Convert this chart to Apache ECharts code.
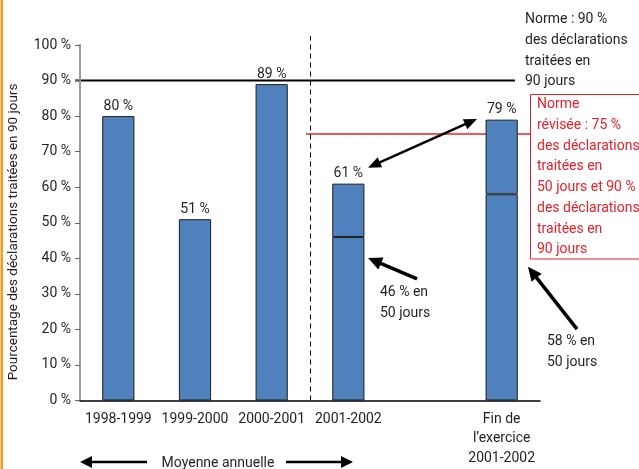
<!DOCTYPE html>
<html>
<head>
<meta charset="utf-8">
<script src="https://cdn.jsdelivr.net/npm/echarts@6/dist/echarts.min.js"></script>
<style>
  html, body { margin: 0; padding: 0; background: #fff; }
  #chart { width: 639px; height: 469px; }
</style>
</head>
<body>
<div id="chart"></div>
<script>
// Processing performance for returns, by period
const categories = ['1998-1999', '1999-2000', '2000-2001', '2001-2002', '', 'Fin de\nl’exercice\n2001-2002'];
const totalIn90Days = [80, 51, 89, 61, null, 79];
const within50Days = [null, null, null, 46, null, 58];
const norm90 = 90;
const revisedNorm = 75;
const yTitle = 'Pourcentage des déclarations traitées en 90 jours';

const FONT = 'Roboto';
const FS = 14;
const INK = '#231f20';
const RED = '#e8202a';
const CSS_FONT = FS + 'px ' + FONT;

const upperPart = totalIn90Days.map((t, i) => t == null ? null : t - (within50Days[i] || 0));
const barStyle = { color: '#4f81bd', borderColor: '#1f1f1f', borderWidth: 1 };

const chart = echarts.init(document.getElementById('chart'));
chart.setOption({
  animation: false,
  grid: { left: 80, right: 99, top: 45, bottom: 68.5 },
  xAxis: [
    {
      type: 'category',
      data: categories,
      axisLine: { lineStyle: { color: '#000', width: 1.5 } },
      axisTick: { length: 5, lineStyle: { color: '#333' } },
      axisLabel: {
        color: INK, fontFamily: FONT, fontSize: FS, margin: 9,
        lineHeight: 19.5, verticalAlign: 'top', interval: 0
      }
    },
    // position scale for annotations: one unit per category band
    { type: 'value', min: 0, max: 6, show: false }
  ],
  yAxis: {
    type: 'value',
    min: 0, max: 100, interval: 10,
    axisLine: { show: true, lineStyle: { color: '#999', width: 2 } },
    axisTick: { show: true, length: 5, lineStyle: { color: '#666' } },
    splitLine: { show: false },
    axisLabel: { color: INK, fontFamily: FONT, fontSize: FS, margin: 9, formatter: '{value} %' }
  },
  series: [
    {
      name: 'en 50 jours', type: 'bar', stack: 'total', barWidth: '42%',
      data: within50Days, itemStyle: barStyle, silent: true
    },
    {
      name: 'en 90 jours', type: 'bar', stack: 'total',
      data: upperPart, itemStyle: barStyle, silent: true,
      label: {
        show: true, position: 'top', distance: 3,
        color: INK, fontFamily: FONT, fontSize: FS,
        formatter: p => totalIn90Days[p.dataIndex] + ' %'
      }
    },
    { name: 'positions', type: 'scatter', xAxisIndex: 1, data: [], silent: true }
  ]
});

// map (band position, percent) to pixels
const toPx = (x, y) => [
  chart.convertToPixel({ xAxisIndex: 1 }, x),
  chart.convertToPixel({ yAxisIndex: 0 }, y)
];

// straight rule between two points; thin lines snapped to the pixel grid
function segment(a, b, style) {
  const p = toPx(a[0], a[1]), q = toPx(b[0], b[1]);
  if (style.lineWidth <= 1) {
    if (p[0] === q[0]) { p[0] = q[0] = Math.round(p[0]) + 0.5; }
    if (p[1] === q[1]) { p[1] = q[1] = Math.round(p[1]) + 0.5; }
  }
  return { type: 'line', silent: true, shape: { x1: p[0], y1: p[1], x2: q[0], y2: q[1] }, style: style };
}

// arrow from tail to tip, with filled triangular heads
function arrow(tail, tip, width, headLen, headHalf, both) {
  const p = toPx(tail[0], tail[1]), q = toPx(tip[0], tip[1]);
  const dx = q[0] - p[0], dy = q[1] - p[1];
  const len = Math.hypot(dx, dy), ux = dx / len, uy = dy / len;
  const head = (t, dir) => {
    const bx = t[0] - dir * ux * headLen, by = t[1] - dir * uy * headLen;
    return {
      type: 'polygon', silent: true,
      shape: { points: [t, [bx - uy * headHalf, by + ux * headHalf], [bx + uy * headHalf, by - ux * headHalf]] },
      style: { fill: '#000' }
    };
  };
  const start = both ? [p[0] + ux * headLen * 0.8, p[1] + uy * headLen * 0.8] : p;
  const end = [q[0] - ux * headLen * 0.8, q[1] - uy * headLen * 0.8];
  const out = [
    { type: 'line', silent: true, shape: { x1: start[0], y1: start[1], x2: end[0], y2: end[1] }, style: { stroke: '#000', lineWidth: width } },
    head(q, 1)
  ];
  if (both) out.push(head(p, -1));
  return out;
}

const textStyle = (text, fill, extra) => Object.assign({ text: text, fill: fill, font: CSS_FONT, lineHeight: 20.7 }, extra || {});

chart.setOption({
  graphic: [
    { type: 'rect', silent: true, shape: { x: 0.5, y: 0, width: 2.5, height: 469 }, style: { fill: '#f29b1d' } },
    // y axis title
    {
      type: 'text', x: 14, y: 232, rotation: Math.PI / 2, silent: true,
      style: { text: yTitle, fill: INK, font: '13.5px ' + FONT, align: 'center', verticalAlign: 'middle' }
    },
    // standards
    segment([-0.065, norm90], [5.673, norm90], { stroke: '#000', lineWidth: 2 }),
    segment([2.948, revisedNorm], [5.87, revisedNorm], { stroke: RED, lineWidth: 1.5 }),
    // separation between annual averages and year-end
    segment([3, 0], [3, 102.5], { stroke: '#000', lineWidth: 1, lineDash: [5, 4] }),
    ...arrow([3.757, 65.5], [5.178, 79.2], 2.5, 13, 5.5, true),
    ...arrow([4.396, 34.2], [3.757, 40.1], 3.5, 14, 6.5, false),
    ...arrow([6.483, 20.1], [5.843, 37.6], 3.5, 14, 6.5, false),
    ...arrow([0.874, -17.3], [0, -17.3], 2.5, 12, 6, false),
    ...arrow([2.687, -17.3], [3.561, -17.3], 2.5, 12, 6, false),
    {
      type: 'text', left: 525, top: 9.5, silent: true,
      style: textStyle('Norme : 90 %\ndes déclarations\ntraitées en\n90 jours', INK)
    },
    {
      type: 'rect', silent: true,
      shape: { x: 530.5, y: 94.5, width: 120, height: 164.5 },
      style: { fill: 'none', stroke: RED, lineWidth: 1 }
    },
    {
      type: 'text', left: 537, top: 94.5, silent: true,
      style: textStyle('Norme\nrévisée : 75 %\ndes déclarations\ntraitées en\n50 jours et 90 %\ndes déclarations\ntraitées en\n90 jours', RED)
    },
    { type: 'text', left: 380, top: 282.5, silent: true, style: textStyle('46 % en\n50 jours', INK) },
    { type: 'text', left: 547, top: 331.5, silent: true, style: textStyle('58 % en\n50 jours', INK) },
    {
      type: 'text', x: 218, y: 463, silent: true,
      style: textStyle('Moyenne annuelle', INK, { align: 'center', verticalAlign: 'middle' })
    }
  ]
});
</script>
</body>
</html>
